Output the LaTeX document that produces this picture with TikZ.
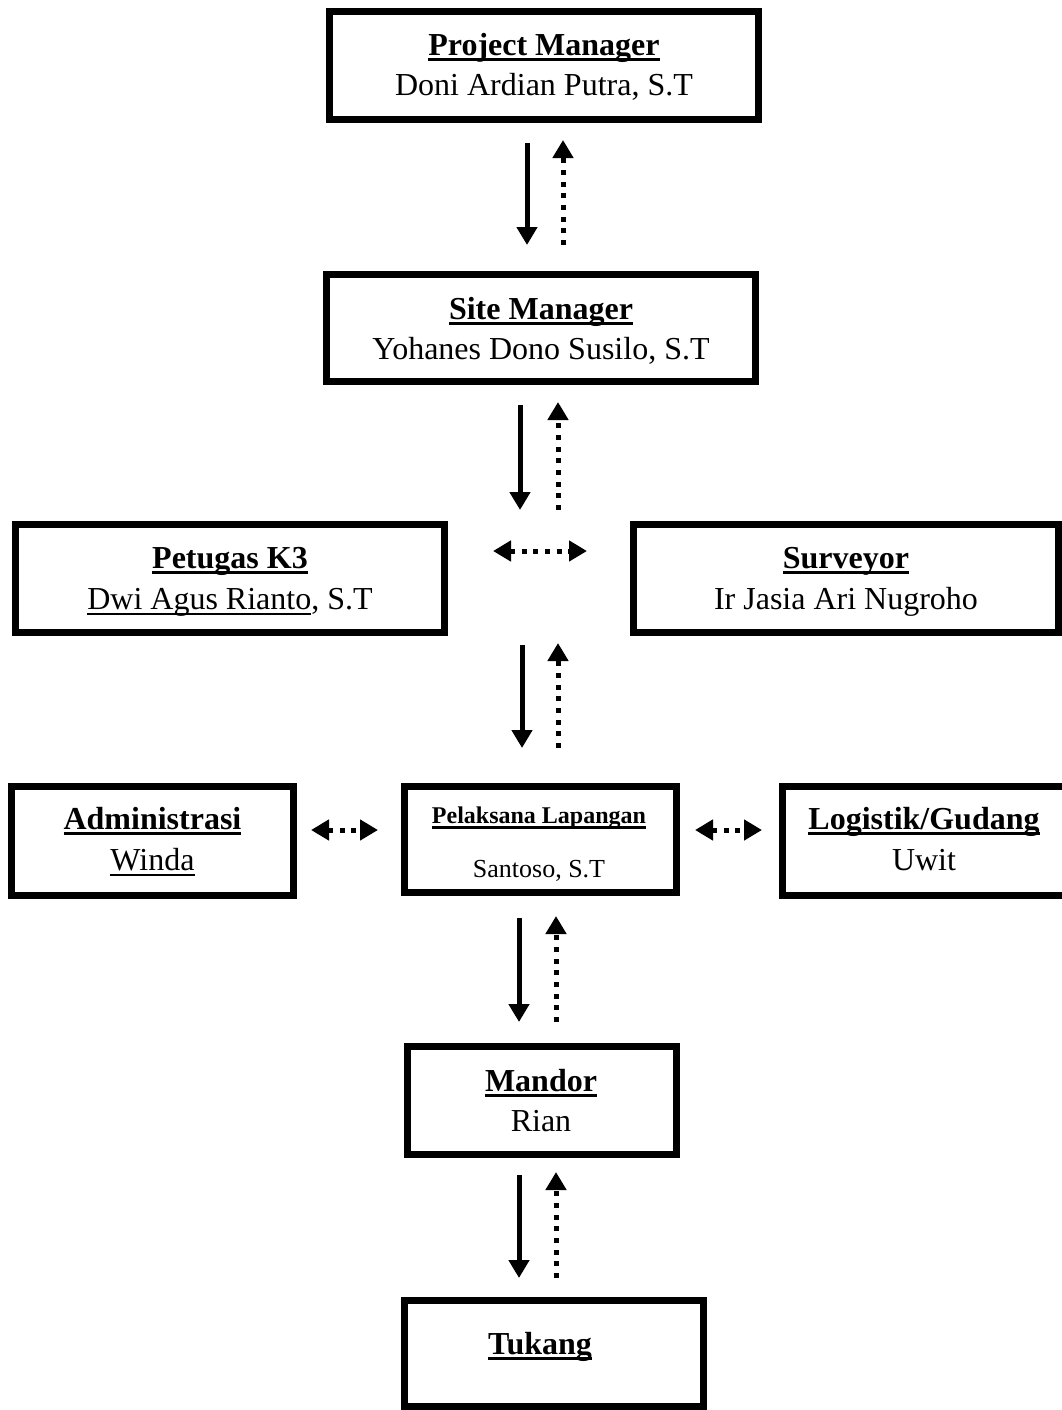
\documentclass[tikz,border=0pt]{standalone}
\usepackage{fontspec}
\setmainfont{Liberation Serif}
\usetikzlibrary{arrows.meta}
\newcommand\myul[2][3pt]{\setbox0\hbox{#2}\rlap{\rule[-5.5pt]{\wd0}{#1}}\box0}
\tikzset{
  x=1pt, y=-1pt,
  box/.style={draw, line width=7pt, inner sep=0pt, fill=white},
  big/.style={anchor=base, inner sep=0pt, font=\fontsize{32}{40}\selectfont},
  solidarr/.style={line width=5pt, -{Triangle[width=20pt,length=18pt]}},
  dotarr/.style={line width=5pt, dash pattern=on 5pt off 6.7pt, -{Triangle[width=20pt,length=18pt]}},
  dotboth/.style={line width=5pt, dash pattern=on 5pt off 6.7pt, {Triangle[width=20pt,length=18pt]}-{Triangle[width=20pt,length=18pt]}},
}
\begin{document}
\begin{tikzpicture}
\useasboundingbox (0,0) rectangle (1062,1410);
\clip (0,0) rectangle (1062,1410);
% boxes (outer size minus line width)
\node[box, minimum width=429pt, minimum height=108pt] (pm) at (544,65.5) {};
\node[box, minimum width=429pt, minimum height=107pt] (sm) at (541,328) {};
\node[box, minimum width=429pt, minimum height=108pt] (k3) at (230,578.5) {};
\node[box, minimum width=425pt, minimum height=108pt] (sv) at (846,578.5) {};
\node[box, minimum width=282pt, minimum height=109pt] (ad) at (152.5,841) {};
\node[box, minimum width=272pt, minimum height=106pt] (pl) at (540.5,839.5) {};
\node[box, minimum width=284pt, minimum height=109pt] (lg) at (924.5,841) {};
\node[box, minimum width=269pt, minimum height=108pt] (md) at (542,1100.5) {};
\node[box, minimum width=299pt, minimum height=106pt] (tk) at (554,1353.5) {};
% texts
\node[big] (pm1) at (544,56) {\textbf{\myul{Project Manager}}};
\node[big] (pm2) at (544,96) {Doni Ardian Putra, S.T};
\node[big] (sm1) at (541,319) {\textbf{\myul{Site Manager}}};
\node[big] (sm2) at (541,359) {Yohanes Dono Susilo, S.T};
\node[big] (k31) at (230,568) {\textbf{\myul{Petugas K3}}};
\node[big] (k32) at (230,609) {\myul[2pt]{Dwi Agus Rianto}, S.T};
\node[big] (sv1) at (846,568) {\textbf{\myul{Surveyor}}};
\node[big] (sv2) at (846,609) {Ir Jasia Ari Nugroho};
\node[big] (ad1) at (152.5,829) {\textbf{\myul{Administrasi}}};
\node[big] (ad2) at (152.5,870) {\myul[2pt]{Winda}};
\node[anchor=base, inner sep=0pt, font=\fontsize{24}{24}\selectfont] (pl1) at (539,823) {\textbf{\myul[2.2pt]{Pelaksana Lapangan}}};
\node[anchor=base, inner sep=0pt, font=\fontsize{26}{26}\selectfont] (pl2) at (539,877) {Santoso, S.T};
\node[big] (lg1) at (924,829) {\textbf{\myul{Logistik/Gudang}}};
\node[big] (lg2) at (924,870) {Uwit};
\node[big] (md1) at (541,1091) {\textbf{\myul{Mandor}}};
\node[big] (md2) at (541,1131) {Rian};
\node[big] (tk1) at (540,1354) {\textbf{\myul{Tukang}}};
% arrow end points
\coordinate (a1) at (527,143); \coordinate (a2) at (527,245);
\coordinate (b1) at (563,245); \coordinate (b2) at (563,140);
\coordinate (c1) at (520,405); \coordinate (c2) at (520,510);
\coordinate (d1) at (558,510); \coordinate (d2) at (558,402);
\coordinate (e1) at (522,645); \coordinate (e2) at (522,748);
\coordinate (f1) at (558,748); \coordinate (f2) at (558,643);
\coordinate (g1) at (519,918); \coordinate (g2) at (519,1022);
\coordinate (h1) at (556,1022); \coordinate (h2) at (556,916);
\coordinate (i1) at (519,1175); \coordinate (i2) at (519,1278);
\coordinate (j1) at (556,1278); \coordinate (j2) at (556,1172);
\coordinate (k1) at (493,551); \coordinate (k2) at (587,551);
\coordinate (l1) at (311,830); \coordinate (l2) at (378,830);
\coordinate (m1) at (695,830); \coordinate (m2) at (762,830);
\draw[solidarr] (a1) -- (a2);
\draw[dotarr] (b1) -- (b2);
\draw[solidarr] (c1) -- (c2);
\draw[dotarr] (d1) -- (d2);
\draw[solidarr] (e1) -- (e2);
\draw[dotarr] (f1) -- (f2);
\draw[solidarr] (g1) -- (g2);
\draw[dotarr] (h1) -- (h2);
\draw[solidarr] (i1) -- (i2);
\draw[dotarr] (j1) -- (j2);
\draw[dotboth] (k1) -- (k2);
\draw[dotboth] (l1) -- (l2);
\draw[dotboth] (m1) -- (m2);
\end{tikzpicture}
\end{document}
